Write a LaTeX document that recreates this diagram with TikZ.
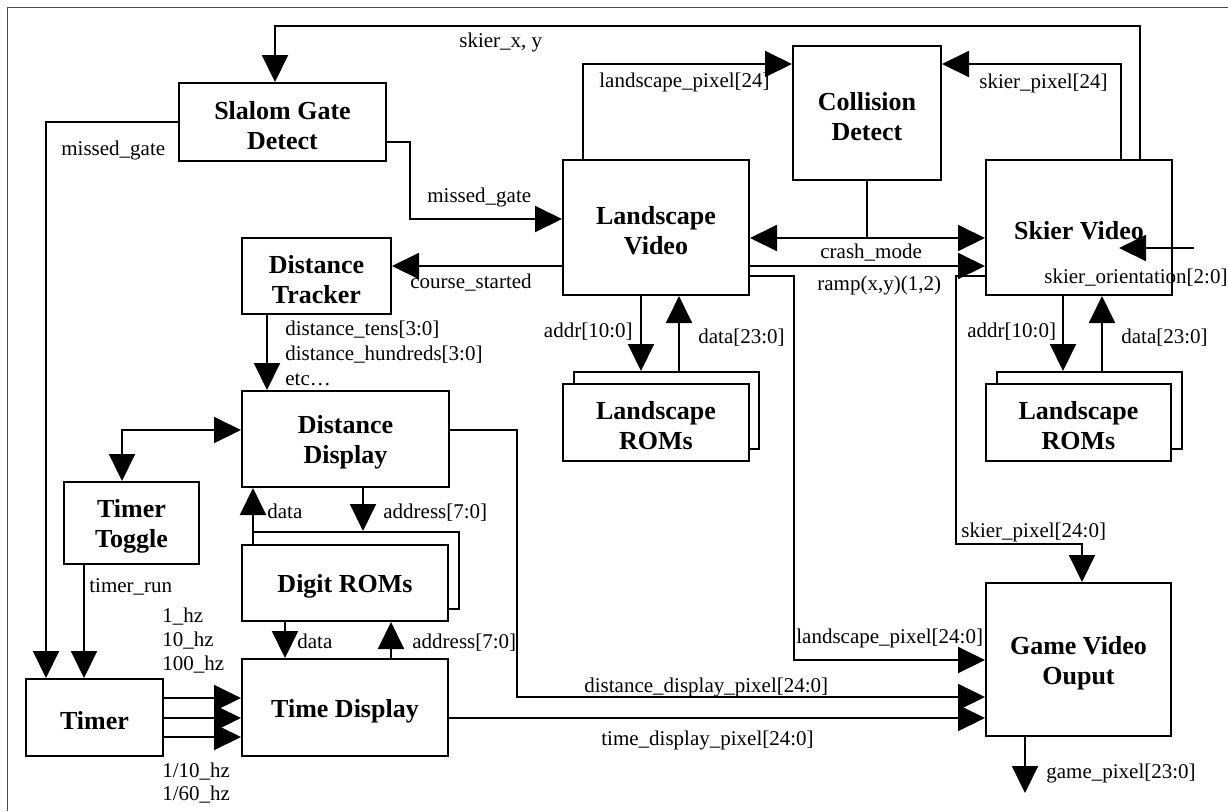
\documentclass[tikz,border=0pt]{standalone}
\usepackage{fontspec}
\setmainfont{Liberation Serif}
\usetikzlibrary{arrows.meta,fit}
\definecolor{framegray}{gray}{0.3}
\tikzset{
  blk/.style={draw, line width=1pt, fill=white, inner sep=0pt},
  ttl/.style={inner sep=0pt, align=center, yshift=-1.75pt,
    font=\fontsize{13}{15}\selectfont\bfseries},
  titled/.style={label={[ttl]center:{#1}}},
  lbl/.style={inner sep=0pt, anchor=base west, font=\fontsize{10.5}{12}\selectfont},
  lble/.style={lbl, anchor=base east},
  wire/.style={line width=1pt},
  arr/.style={wire, -{Triangle[length=13.5pt,width=13pt]}},
  arrb/.style={wire, {Triangle[length=13.5pt,width=13pt]}-{Triangle[length=13.5pt,width=13pt]}},
}
\begin{document}
\begin{tikzpicture}[x=0.5pt,y=-0.5pt]
\useasboundingbox (0,0) rectangle (1228,811);
% page frame
\draw[framegray, line width=0.5pt] (7,811) -- (7,7) -- (1228,7);

% blocks
\node[blk, fit={(179,83) (386,161)}, titled={Slalom Gate\\Detect}] (slalom) {};
\node[blk, fit={(793,46) (941,180)}, titled={Collision\\Detect}] (cd) {};
\node[blk, fit={(563,160) (749,295)}, titled={Landscape\\Video}] (lv) {};
\node[blk, fit={(986,160) (1172,295)}, titled={Skier Video}] (sv) {};
\node[blk, fit={(242,238) (391,314)}, titled={Distance\\Tracker}] (dt) {};
\node[blk, fit={(242,391) (449,487)}, titled={Distance\\Display}] (dd) {};
\node[blk, fit={(64,482) (199,564)}, titled={Timer\\Toggle}] (tt) {};
\node[blk, fit={(26,679) (163,756)}, titled={Timer}] (timer) {};
\node[blk, fit={(242,659) (448,756)}, titled={Time Display}] (td) {};
\node[blk, fit={(986,583) (1171,736)}, titled={Game Video\\Ouput}] (gvo) {};

% stacked ROM blocks
\node[blk, fit={(574,372) (759,449)}] (lromb) {};
\node[blk, fit={(563,384) (749,461)}, titled={Landscape\\ROMs}] (lrom) {};
\node[blk, fit={(997,372) (1182,449)}] (sromb) {};
\node[blk, fit={(986,384) (1171,461)}, titled={Landscape\\ROMs}] (srom) {};
\node[blk, fit={(253,532) (459,609)}] (drb) {};
\node[blk, fit={(242,545) (448,621)}, titled={Digit ROMs}] (dr) {};

% free ends
\coordinate (so) at (1194,248);
\coordinate (sotip) at (1119,248);
\coordinate (gp) at (1025,793);

% skier position feedback
\draw[arr] (sv.north -| 1140,0) |- (275,26) -- (slalom.north -| 275,0);
\node[lbl] at (459,47) {skier\_x, y};

% collision inputs
\draw[arr] (lv.north -| 583,0) |- (cd.west |- 0,64);
\node[lbl] at (599,87) {landscape\_pixel[24]};
\draw[arr] (sv.north -| 1121,0) |- (cd.east |- 0,64);
\node[lbl] at (979,88) {skier\_pixel[24]};

% missed gate
\draw[arr] (slalom.east |- 0,142) -| (410,219) -- (lv.west |- 0,219);
\node[lbl] at (427,202) {missed\_gate};
\draw[arr] (slalom.west |- 0,122) -| (timer.north -| 46,0);
\node[lbl] at (61,155) {missed\_gate};

% course started
\draw[arr] (lv.west |- 0,266) -- (dt.east |- 0,266);
\node[lbl] at (410,288) {course\_started};

% crash mode and ramp
\draw[arrb] (lv.east |- 0,238) -- (sv.west |- 0,238);
\draw[wire] (cd.south) -- (cd.south |- 0,238);
\node[lbl] at (820,258) {crash\_mode};
\draw[arr] (lv.east |- 0,266) -- (sv.west |- 0,266);
\node[lbl] at (817,290) {ramp(x,y)(1,2)};

% pixel streams to the output
\draw[arr] (lv.east |- 0,276) -| (794,660) -- (gvo.west |- 0,660);
\node[lbl] at (796,643) {landscape\_pixel[24:0]};
\draw[arr] (sv.west |- 0,276) -| (956,544) -| (gvo.north -| 1082,0);
\node[lbl] at (961,537) {skier\_pixel[24:0]};
\draw[arr] (dd.east |- 0,430) -| (517,697) -- (gvo.west |- 0,697);
\node[lbl] at (584,692) {distance\_display\_pixel[24:0]};
\draw[arr] (td.east |- 0,718) -- (gvo.west |- 0,718);
\node[lbl] at (601,745) {time\_display\_pixel[24:0]};
\draw[arr] (gvo.south -| 1025,0) -- (gp);
\node[lbl] at (1046,778) {game\_pixel[23:0]};

% skier orientation input
\draw[arr] (so) -- (sotip);
\node[lbl] at (1044,283) {skier\_orientation[2:0]};

% landscape ROM bus
\draw[arr] (lv.south -| 641,0) -- (lromb.north -| 641,0);
\draw[arr] (lromb.north -| 679,0) -- (lv.south -| 679,0);
\node[lble] at (633,337) {addr[10:0]};
\node[lbl] at (698,343) {data[23:0]};

% skier ROM bus
\draw[arr] (sv.south -| 1063,0) -- (sromb.north -| 1063,0);
\draw[arr] (sromb.north -| 1102,0) -- (sv.south -| 1102,0);
\node[lbl] at (967,337) {addr[10:0]};
\node[lbl] at (1121,343) {data[23:0]};

% distance tracker to display
\draw[arr] (dt.south -| 267,0) -- (dd.north -| 267,0);
\node[lbl] at (285,335) {distance\_tens[3:0]};
\node[lbl] at (285,360) {distance\_hundreds[3:0]};
\node[lbl] at (285,385) {etc…};

% timer toggle
\draw[arrb] (dd.west |- 0,430) -| (tt.north -| 122,0);
\draw[arr] (tt.south -| 84,0) -- (timer.north -| 84,0);
\node[lbl] at (89,592) {timer\_run};

% digit ROM bus
\draw[arr] (dd.south -| 363,0) -- (drb.north -| 363,0);
\node[lbl] at (383,518) {address[7:0]};
\draw[arr] (dr.north -| 253,0) -- (dd.south -| 253,0);
\node[lbl] at (267,518) {data};
\draw[arr] (dr.south -| 285,0) -- (td.north -| 285,0);
\node[lbl] at (297,648) {data};
\draw[arr] (td.north -| 391,0) -- (dr.south -| 391,0);
\node[lbl] at (412,648) {address[7:0]};

% clock outputs of the timer
\draw[arr] (timer.east |- 0,698) -- (td.west |- 0,698);
\draw[arr] (timer.east |- 0,718) -- (td.west |- 0,718);
\draw[arr] (timer.east |- 0,737) -- (td.west |- 0,737);
\node[lbl] at (162,622) {1\_hz};
\node[lbl] at (162,646) {10\_hz};
\node[lbl] at (162,670) {100\_hz};
\node[lbl] at (162,777) {1/10\_hz};
\node[lbl] at (162,800) {1/60\_hz};
\end{tikzpicture}
\end{document}
